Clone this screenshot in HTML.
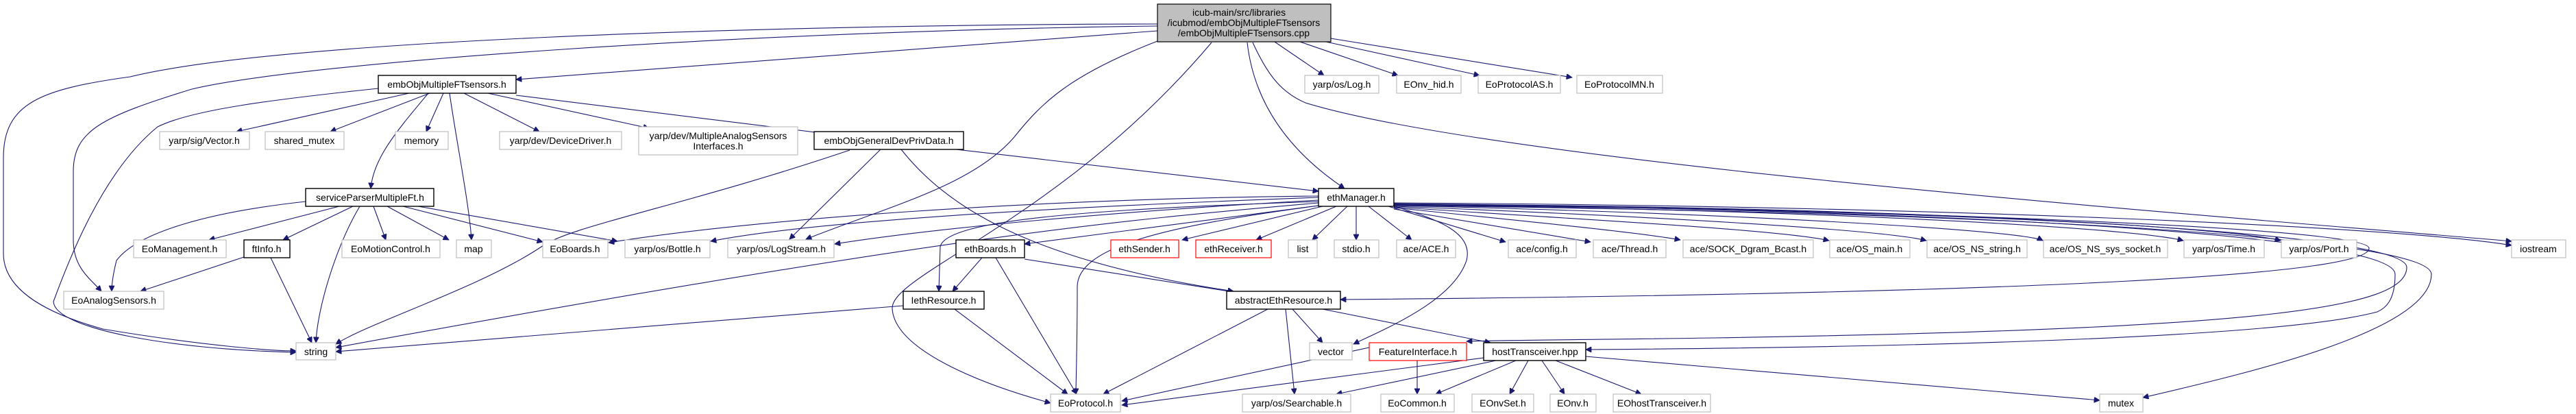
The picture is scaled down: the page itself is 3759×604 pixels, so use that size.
<!DOCTYPE html>
<html><head><meta charset="utf-8"><style>
html,body{margin:0;padding:0;background:#fff;}
svg{display:block;}
text{font-family:"Liberation Sans",sans-serif;font-size:14px;fill:#000;text-anchor:middle;}
.n{fill:#fff;stroke:#bfbfbf;stroke-width:1.2;}
.b{fill:#fff;stroke:#000;stroke-width:1.4;}
.r{fill:#fff;stroke:#ff0000;stroke-width:1.2;}
.e{fill:none;stroke:#191970;stroke-width:1.1;marker-end:url(#a);}
</style></head><body>
<svg width="3759" height="604" viewBox="0 0 3759 604" xmlns="http://www.w3.org/2000/svg">
<defs><marker id="a" viewBox="0 0 10 10" refX="10" refY="5" markerWidth="10" markerHeight="8" markerUnits="userSpaceOnUse" orient="auto"><path d="M0,0 L10,5 L0,10 z" fill="#191970" stroke="#191970"/></marker></defs>

<!-- edges -->
<path class="e" d="M1689,35 C1100,36 400,60 190,112 C60,130 5,150 5,230 L5,370 C5,420 60,455 150,480 C300,505 400,512 432,512"/>
<path class="e" d="M1689,38 C1100,45 450,90 280,130 C150,170 107,190 107,250 L107,350 C107,390 130,405 148,425"/>
<path class="e" d="M552,129 C400,145 280,160 230,185 C150,250 100,380 78,440 C80,480 250,510 432,514"/>
<path class="e" d="M1689,45 L753,116"/>
<path class="e" d="M1689,60 C1560,110 1520,150 1480,200 C1420,270 1300,300 1176,349"/>
<path class="e" d="M1768,62 C1550,320 1300,400 1302,450 C1305,510 1430,560 1533,588"/>
<path class="e" d="M1820,62 C1830,150 1880,220 1962,275"/>
<path class="e" d="M1860,61 L1932,110"/>
<path class="e" d="M1897,61 L2040,110"/>
<path class="e" d="M1935,61 L2159,110"/>
<path class="e" d="M1942,56 L2294,113"/>
<path class="e" d="M1828,62 C1850,110 1870,135 1905,150 C2200,240 3300,320 3665,352"/>

<path class="e" d="M597,136 L345,192"/>
<path class="e" d="M627,136 L482,192"/>
<path class="e" d="M647,136 L622,192"/>
<path class="e" d="M677,136 L787,192"/>
<path class="e" d="M712,136 L947,187"/>
<path class="e" d="M753,139 L1222,197"/>
<path class="e" d="M625,136 C580,190 545,230 541,275"/>
<path class="e" d="M656,136 C665,200 685,300 688,350"/>

<path class="e" d="M446,294 C300,310 200,340 170,380 C165,400 163,415 163,425"/>
<path class="e" d="M495,301 L305,350"/>
<path class="e" d="M515,301 L413,350"/>
<path class="e" d="M525,301 C490,360 463,450 461,500"/>
<path class="e" d="M545,301 L563,350"/>
<path class="e" d="M565,301 L655,350"/>
<path class="e" d="M588,301 L792,353"/>
<path class="e" d="M610,301 L901,352"/>
<path class="e" d="M356,375 L205,425"/>
<path class="e" d="M395,376 L455,500"/>

<path class="e" d="M1240,219 C1000,300 830,330 790,360 C700,420 540,470 490,502"/>
<path class="e" d="M1285,218 L1152,349"/>
<path class="e" d="M1395,218 L1924,279"/>
<path class="e" d="M1315,218 C1380,300 1500,380 1800,425"/>

<path class="e" d="M1924,288 C1600,300 1200,320 1037,352"/>
<path class="e" d="M1924,292 C1600,310 1350,335 1218,356"/>
<path class="e" d="M1924,286 C1500,290 1100,320 888,354"/>
<path class="e" d="M1924,296 C1650,320 1400,340 490,507"/>
<path class="e" d="M1318,446 L490,513"/>
<path class="e" d="M1924,300 L1495,356"/>
<path class="e" d="M1924,294 C1600,305 1380,320 1372,360 L1370,425"/>
<path class="e" d="M1924,300 C1700,330 1570,360 1572,420 C1572,500 1570,560 1570,575"/>
<path class="e" d="M1930,301 L1725,350"/>
<path class="e" d="M1950,301 L1833,350"/>
<path class="e" d="M1966,301 L1915,350"/>
<path class="e" d="M1979,301 L1979,350"/>
<path class="e" d="M1997,301 L2060,350"/>
<path class="e" d="M2026,301 L2197,353"/>
<path class="e" d="M2034,305 L2321,353"/>
<path class="e" d="M2034,303 C2200,320 2400,340 2452,350"/>
<path class="e" d="M2034,302 C2300,320 2600,335 2669,351"/>
<path class="e" d="M2034,301 C2400,315 2750,335 2811,351"/>
<path class="e" d="M2034,300 C2500,310 2950,335 2981,351"/>
<path class="e" d="M2034,299 C2600,305 3100,330 3186,351"/>
<path class="e" d="M2034,298 C2700,300 3250,330 3328,351"/>
<path class="e" d="M2034,296 C2800,300 3500,330 3665,358"/>
<path class="e" d="M2034,297 C2700,305 3455,330 3457,362 C3460,400 3000,428 1956,437"/>
<path class="e" d="M2034,298 C2800,305 3495,340 3495,400 C3495,440 3480,450 3469,455 C3300,500 2600,508 2314,510"/>
<path class="e" d="M2034,299 C2900,305 3512,340 3512,390 C3512,450 3300,480 2500,493 C2300,496 2200,496 2140,498"/>
<path class="e" d="M2034,300 C3000,310 3548,350 3548,400 C3548,480 3300,540 3127,580"/>
<path class="e" d="M2034,301 C2100,320 2150,340 2140,380 C2120,440 2020,480 1975,502"/>

<path class="e" d="M1433,376 L1390,425"/>
<path class="e" d="M1453,376 L1571,575"/>
<path class="e" d="M1495,378 L1800,426"/>
<path class="e" d="M1393,451 L1558,575"/>
<path class="e" d="M1850,451 L1610,575"/>
<path class="e" d="M1876,451 L1889,575"/>
<path class="e" d="M1886,451 L1930,500"/>
<path class="e" d="M1930,451 L2175,500"/>
<path class="e" d="M1998,507 L1637,585"/>
<path class="e" d="M2068,526 L2068,575"/>
<path class="e" d="M2165,522 L1637,591"/>
<path class="e" d="M2183,526 L1950,575"/>
<path class="e" d="M2212,526 L2095,575"/>
<path class="e" d="M2230,526 L2203,575"/>
<path class="e" d="M2250,526 L2283,575"/>
<path class="e" d="M2270,526 L2395,575"/>
<path class="e" d="M2314,520 L3064,584"/>

<!-- nodes -->
<rect x="1689" y="6" width="253" height="55" fill="#bfbfbf" stroke="#000" stroke-width="1.2"/>
<text x="1740" y="23" style="text-anchor:start">icub-main/src/libraries</text>
<text x="1815" y="38">/icubmod/embObjMultipleFTsensors</text>
<text x="1815" y="53">/embObjMultipleFTsensors.cpp</text>

<rect class="b" x="552" y="110" width="201" height="26"/><text x="652" y="128">embObjMultipleFTsensors.h</text>
<rect class="n" x="233" y="192" width="131" height="26"/><text x="298" y="210">yarp/sig/Vector.h</text>
<rect class="n" x="387" y="192" width="115" height="26"/><text x="444" y="210">shared_mutex</text>
<rect class="n" x="577" y="192" width="77" height="26"/><text x="615" y="210">memory</text>
<rect class="n" x="729" y="192" width="178" height="26"/><text x="818" y="210">yarp/dev/DeviceDriver.h</text>
<rect class="n" x="932" y="185" width="232" height="41"/><text x="1048" y="203">yarp/dev/MultipleAnalogSensors</text><text x="1048" y="218">Interfaces.h</text>
<rect class="b" x="1188" y="192" width="218" height="26"/><text x="1297" y="210">embObjGeneralDevPrivData.h</text>
<rect class="b" x="446" y="275" width="187" height="26"/><text x="540" y="293">serviceParserMultipleFt.h</text>
<rect class="n" x="195" y="350" width="135" height="26"/><text x="262" y="368">EoManagement.h</text>
<rect class="b" x="356" y="350" width="67" height="26"/><text x="389" y="368">ftInfo.h</text>
<rect class="n" x="499" y="350" width="143" height="26"/><text x="570" y="368">EoMotionControl.h</text>
<rect class="n" x="666" y="350" width="51" height="26"/><text x="691" y="368">map</text>
<rect class="n" x="792" y="350" width="95" height="26"/><text x="839" y="368">EoBoards.h</text>
<rect class="n" x="912" y="350" width="124" height="26"/><text x="974" y="368">yarp/os/Bottle.h</text>
<rect class="n" x="1062" y="350" width="155" height="26"/><text x="1140" y="368">yarp/os/LogStream.h</text>
<rect class="n" x="93" y="425" width="146" height="26"/><text x="166" y="443">EoAnalogSensors.h</text>
<rect class="n" x="432" y="500" width="58" height="25"/><text x="461" y="518">string</text>

<rect class="n" x="1904" y="110" width="108" height="26"/><text x="1958" y="128">yarp/os/Log.h</text>
<rect class="n" x="2038" y="110" width="94" height="26"/><text x="2085" y="128">EOnv_hid.h</text>
<rect class="n" x="2157" y="110" width="120" height="26"/><text x="2217" y="128">EoProtocolAS.h</text>
<rect class="n" x="2301" y="110" width="125" height="26"/><text x="2363" y="128">EoProtocolMN.h</text>
<rect class="b" x="1924" y="275" width="110" height="26"/><text x="1979" y="293">ethManager.h</text>
<rect class="b" x="1395" y="350" width="100" height="26"/><text x="1445" y="368">ethBoards.h</text>
<rect class="r" x="1621" y="350" width="99" height="26"/><text x="1670" y="368">ethSender.h</text>
<rect class="r" x="1745" y="350" width="110" height="26"/><text x="1800" y="368">ethReceiver.h</text>
<rect class="n" x="1880" y="350" width="42" height="26"/><text x="1901" y="368">list</text>
<rect class="n" x="1947" y="350" width="65" height="26"/><text x="1979" y="368">stdio.h</text>
<rect class="n" x="2038" y="350" width="86" height="26"/><text x="2081" y="368">ace/ACE.h</text>
<rect class="n" x="2201" y="350" width="99" height="26"/><text x="2250" y="368">ace/config.h</text>
<rect class="n" x="2325" y="350" width="106" height="26"/><text x="2378" y="368">ace/Thread.h</text>
<rect class="n" x="2456" y="350" width="190" height="26"/><text x="2551" y="368">ace/SOCK_Dgram_Bcast.h</text>
<rect class="n" x="2670" y="350" width="117" height="26"/><text x="2728" y="368">ace/OS_main.h</text>
<rect class="n" x="2812" y="350" width="146" height="26"/><text x="2885" y="368">ace/OS_NS_string.h</text>
<rect class="n" x="2982" y="350" width="181" height="26"/><text x="3072" y="368">ace/OS_NS_sys_socket.h</text>
<rect class="n" x="3187" y="350" width="117" height="26"/><text x="3245" y="368">yarp/os/Time.h</text>
<rect class="n" x="3329" y="350" width="110" height="26"/><text x="3384" y="368">yarp/os/Port.h</text>
<rect class="n" x="3665" y="350" width="79" height="26"/><text x="3704" y="368">iostream</text>

<rect class="b" x="1318" y="425" width="118" height="26"/><text x="1377" y="443">IethResource.h</text>
<rect class="b" x="1790" y="425" width="166" height="26"/><text x="1873" y="443">abstractEthResource.h</text>
<rect class="n" x="1911" y="500" width="62" height="25"/><text x="1942" y="518">vector</text>
<rect class="r" x="1998" y="500" width="142" height="26"/><text x="2069" y="518">FeatureInterface.h</text>
<rect class="b" x="2165" y="500" width="149" height="26"/><text x="2240" y="518">hostTransceiver.hpp</text>
<rect class="n" x="1533" y="575" width="102" height="26"/><text x="1584" y="593">EoProtocol.h</text>
<rect class="n" x="1813" y="575" width="158" height="26"/><text x="1892" y="593">yarp/os/Searchable.h</text>
<rect class="n" x="2015" y="575" width="107" height="26"/><text x="2068" y="593">EoCommon.h</text>
<rect class="n" x="2148" y="575" width="90" height="26"/><text x="2193" y="593">EOnvSet.h</text>
<rect class="n" x="2262" y="575" width="67" height="26"/><text x="2295" y="593">EOnv.h</text>
<rect class="n" x="2354" y="575" width="142" height="26"/><text x="2425" y="593">EOhostTransceiver.h</text>
<rect class="n" x="3064" y="575" width="63" height="26"/><text x="3095" y="593">mutex</text>
</svg>
</body></html>
